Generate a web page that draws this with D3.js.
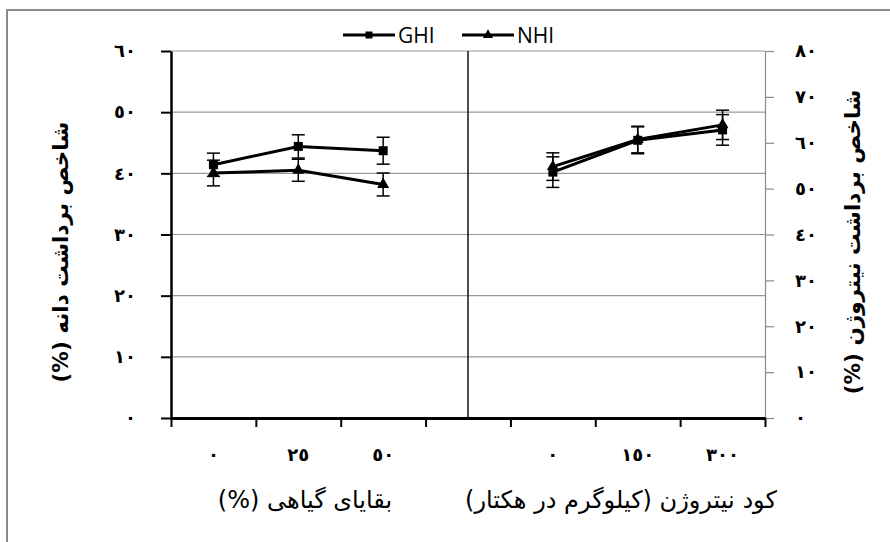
<!DOCTYPE html>
<html>
<head>
<meta charset="utf-8">
<script src="https://cdn.jsdelivr.net/npm/d3@7"></script>
<style>
  html, body { margin: 0; padding: 0; background: #fff; }
  svg { display: block; }
</style>
</head>
<body>
<svg id="chart" width="890" height="542"></svg>
<script>
// Category slots along the x axis (one empty slot separates the two experiments)
const categories = ["r0", "r25", "r50", "sep", "n0", "n150", "n300"];
const tickLabels = ["٠", "٢٥", "٥٠", "", "٠", "١٥٠", "٣٠٠"];
const residueCats = ["r0", "r25", "r50"];
const nitrogenCats = ["n0", "n150", "n300"];

// Grain harvest index (left axis)
const ghiResidue = [41.4, 44.4, 43.7];
const ghiResidueErr = [1.9, 1.9, 2.2];
const ghiNitrogen = [40.2, 45.4, 47.1];
const ghiNitrogenErr = [2.5, 2.2, 2.5];

// Nitrogen harvest index (right axis)
const nhiResidue = [53.4, 54.0, 50.9];
const nhiResidueErr = [2.8, 2.4, 2.5];
const nhiNitrogen = [54.8, 60.7, 63.9];
const nhiNitrogenErr = [3.0, 2.9, 3.2];

const leftTicks = [0, 10, 20, 30, 40, 50, 60];
const rightTicks = [0, 10, 20, 30, 40, 50, 60, 70, 80];

const residueTitle = "بقایای گیاهی (%)";
const nitrogenTitle = "کود نیتروژن (کیلوگرم در هکتار)";
const leftTitle = "شاخص برداشت دانه (%)";
const rightTitle = "شاخص برداشت نیتروژن (%)";

const arabicDigits = "٠١٢٣٤٥٦٧٨٩";
const toArabic = n => String(n).replace(/[0-9]/g, d => arabicDigits[+d]);

const svg = d3.select("#chart");
const plot = { left: 171, right: 765, top: 51, bottom: 418 };
const arabicFont = "'DejaVu Sans', 'Noto Sans', sans-serif";
const digitSize = 18;

// outer frame
svg.append("rect")
  .attr("x", 7).attr("y", 10).attr("width", 900).attr("height", 600)
  .attr("fill", "#fff").attr("stroke", "#8a8a8a").attr("stroke-width", 2);

const x = d3.scaleBand().domain(categories).range([plot.left, plot.right]).padding(0);
const xEdge = d3.scaleLinear().domain([0, categories.length]).range([plot.left, plot.right]);
const yL = d3.scaleLinear().domain([0, 60]).range([plot.bottom, plot.top]);
const yR = d3.scaleLinear().domain([0, 80]).range([plot.bottom, plot.top]);
const cx = c => x(c) + x.bandwidth() / 2;

// horizontal gridlines
svg.append("g")
  .selectAll("line")
  .data(leftTicks.filter(t => t > 0))
  .join("line")
  .attr("x1", plot.left).attr("x2", plot.right)
  .attr("y1", d => yL(d)).attr("y2", d => yL(d))
  .attr("stroke", "#9a9a9a").attr("stroke-width", 1.2);

// separator between the two experiments
svg.append("line")
  .attr("x1", cx("sep")).attr("x2", cx("sep"))
  .attr("y1", plot.top).attr("y2", plot.bottom)
  .attr("stroke", "#111").attr("stroke-width", 1.5);

// right axis (secondary, grey)
const rightAxis = svg.append("g")
  .attr("transform", `translate(${plot.right},0)`)
  .call(d3.axisRight(yR).tickValues(rightTicks).tickFormat(toArabic).tickSize(9).tickPadding(21));
rightAxis.select(".domain").attr("stroke", "#8a8a8a").attr("stroke-width", 1.2);
rightAxis.selectAll(".tick line").attr("stroke", "#8a8a8a").attr("stroke-width", 1.2);
rightAxis.selectAll(".tick text")
  .attr("font-family", arabicFont).attr("font-weight", "bold").attr("font-size", digitSize).attr("fill", "#000");

// left axis
const leftAxis = svg.append("g")
  .attr("transform", `translate(${plot.left},0)`)
  .call(d3.axisLeft(yL).tickValues(leftTicks).tickFormat(toArabic).tickSize(10).tickPadding(25).tickSizeOuter(0));
leftAxis.select(".domain").attr("stroke", "#000").attr("stroke-width", 2.5);
leftAxis.selectAll(".tick line").attr("stroke", "#000").attr("stroke-width", 2);
leftAxis.selectAll(".tick text")
  .attr("font-family", arabicFont).attr("font-weight", "bold").attr("font-size", digitSize).attr("fill", "#000");

// bottom axis: tick marks on slot edges
const edgeAxis = svg.append("g")
  .attr("transform", `translate(0,${plot.bottom})`)
  .call(d3.axisBottom(xEdge).ticks(categories.length).tickFormat("").tickSize(9).tickSizeOuter(0));
edgeAxis.select(".domain").attr("stroke", "#000").attr("stroke-width", 3);
edgeAxis.selectAll(".tick line").attr("stroke", "#000").attr("stroke-width", 2);

// bottom axis: labels centred in each slot
const labelAxis = svg.append("g")
  .attr("transform", `translate(0,${plot.bottom})`)
  .call(d3.axisBottom(x).tickSize(0).tickPadding(30).tickFormat((d, i) => tickLabels[i]));
labelAxis.select(".domain").remove();
labelAxis.selectAll(".tick text")
  .attr("font-family", arabicFont).attr("font-weight", "bold").attr("font-size", digitSize).attr("fill", "#000");

// series
function drawSeries(cats, vals, errs, yScale, symbolType, symbolSize) {
  const pts = cats.map((c, i) => ({ x: cx(c), v: vals[i], e: errs[i] }));
  const g = svg.append("g");
  g.append("path")
    .datum(pts)
    .attr("d", d3.line().x(d => d.x).y(d => yScale(d.v)))
    .attr("fill", "none").attr("stroke", "#000").attr("stroke-width", 3);
  const eb = g.selectAll("g.err").data(pts).join("g").attr("class", "err")
    .attr("stroke", "#000").attr("stroke-width", 1.5);
  eb.append("line")
    .attr("x1", d => d.x).attr("x2", d => d.x)
    .attr("y1", d => yScale(d.v - d.e)).attr("y2", d => yScale(d.v + d.e));
  eb.append("line")
    .attr("x1", d => d.x - 6.5).attr("x2", d => d.x + 6.5)
    .attr("y1", d => yScale(d.v + d.e)).attr("y2", d => yScale(d.v + d.e));
  eb.append("line")
    .attr("x1", d => d.x - 6.5).attr("x2", d => d.x + 6.5)
    .attr("y1", d => yScale(d.v - d.e)).attr("y2", d => yScale(d.v - d.e));
  g.selectAll("path.mk").data(pts).join("path").attr("class", "mk")
    .attr("d", d3.symbol(symbolType, symbolSize))
    .attr("transform", d => `translate(${d.x},${yScale(d.v)})`)
    .attr("fill", "#000");
}

drawSeries(residueCats, nhiResidue, nhiResidueErr, yR, d3.symbolTriangle, 62);
drawSeries(residueCats, ghiResidue, ghiResidueErr, yL, d3.symbolSquare, 81);
drawSeries(nitrogenCats, ghiNitrogen, ghiNitrogenErr, yL, d3.symbolSquare, 81);
drawSeries(nitrogenCats, nhiNitrogen, nhiNitrogenErr, yR, d3.symbolTriangle, 62);

// legend
const legend = [
  { name: "GHI", x0: 343, sym: d3.symbolSquare, size: 49 },
  { name: "NHI", x0: 462, sym: d3.symbolTriangle, size: 44 }
];
const lg = svg.append("g");
legend.forEach(l => {
  lg.append("line").attr("x1", l.x0).attr("x2", l.x0 + 52).attr("y1", 35).attr("y2", 35)
    .attr("stroke", "#000").attr("stroke-width", 3);
  lg.append("path").attr("d", d3.symbol(l.sym, l.size))
    .attr("transform", `translate(${l.x0 + 26},35)`).attr("fill", "#000");
  lg.append("text").attr("x", l.x0 + 55).attr("y", 35).attr("dy", "0.36em")
    .attr("font-family", "'Open Sans', sans-serif").attr("font-size", 21).attr("fill", "#000")
    .text(l.name);
});

// axis titles
svg.append("text")
  .attr("x", 305).attr("y", 500).attr("dy", "0.35em")
  .attr("direction", "rtl").attr("text-anchor", "middle")
  .attr("font-family", arabicFont).attr("font-size", 24).attr("fill", "#000")
  .text(residueTitle);
svg.append("text")
  .attr("x", 621).attr("y", 500).attr("dy", "0.35em")
  .attr("direction", "rtl").attr("text-anchor", "middle")
  .attr("font-family", arabicFont).attr("font-size", 24).attr("fill", "#000")
  .text(nitrogenTitle);
svg.append("text")
  .attr("transform", "translate(60,252) rotate(-90)").attr("dy", "0.35em")
  .attr("direction", "rtl").attr("text-anchor", "middle")
  .attr("font-family", arabicFont).attr("font-weight", "bold").attr("font-size", 21.5).attr("fill", "#000")
  .text(leftTitle);
svg.append("text")
  .attr("transform", "translate(852,242) rotate(-90)").attr("dy", "0.35em")
  .attr("direction", "rtl").attr("text-anchor", "middle")
  .attr("font-family", arabicFont).attr("font-weight", "bold").attr("font-size", 21.5).attr("fill", "#000")
  .text(rightTitle);
</script>
</body>
</html>
